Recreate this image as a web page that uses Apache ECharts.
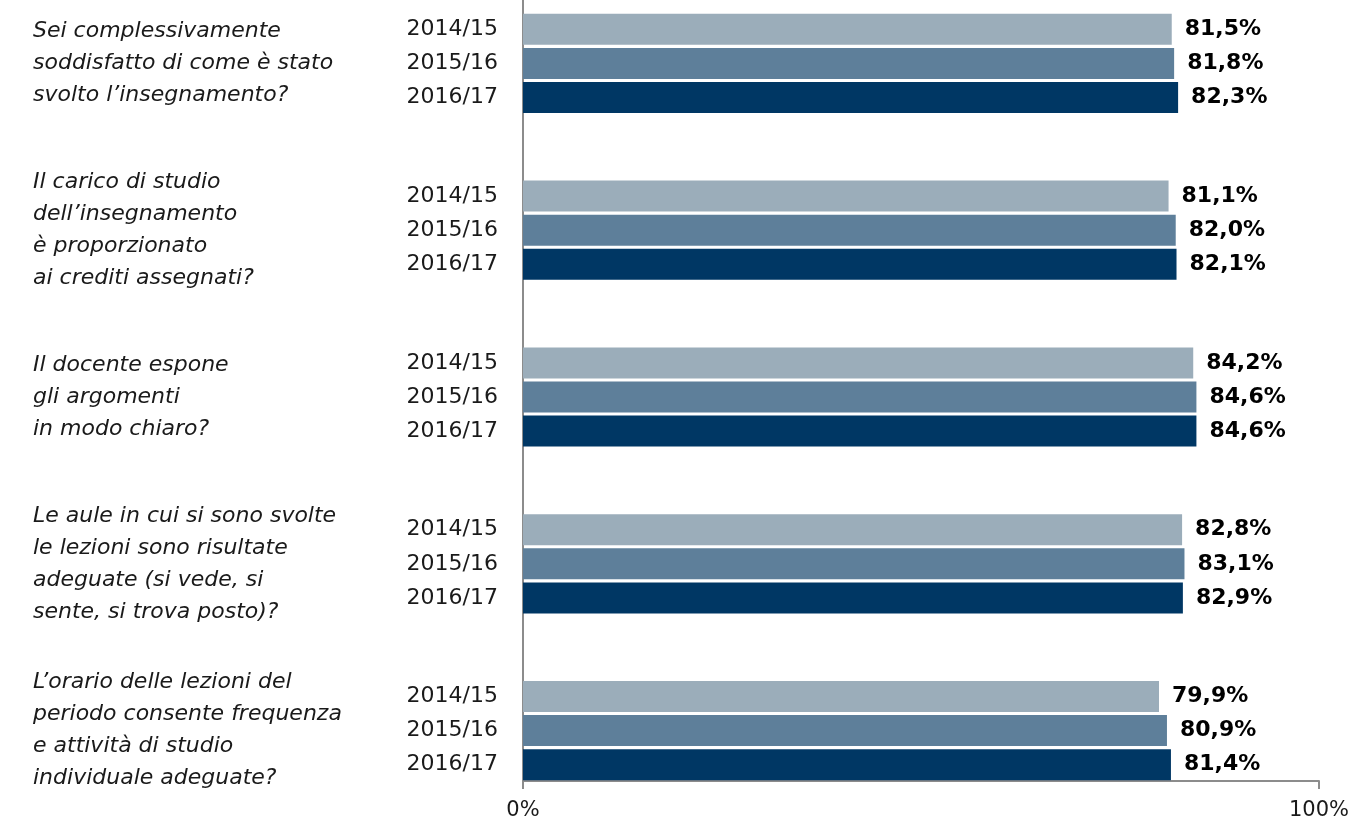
<!DOCTYPE html>
<html>
<head>
	<meta charset="UTF-8">
	<title>questionario</title>
	<script src="https://cdn.jsdelivr.net/npm/echarts@6/dist/echarts.min.js"></script>
	<style>
		html,body{margin:0;padding:0;background:#fff;}
		#mychart{width:1348px;height:822px;}
	</style>
</head>
<body>
<div id="mychart"></div>
<script type="text/javascript">
	// domande (categorie)
	var domande = [
		'Sei complessivamente\nsoddisfatto di come è stato\nsvolto l’insegnamento?',
		'Il carico di studio\ndell’insegnamento\nè proporzionato\nai crediti assegnati?',
		'Il docente espone\ngli argomenti\nin modo chiaro?',
		'Le aule in cui si sono svolte\nle lezioni sono risultate\nadeguate (si vede, si\nsente, si trova posto)?',
		'L’orario delle lezioni del\nperiodo consente frequenza\ne attività di studio\nindividuale adeguate?'
	];
	var anni = ['2014/15','2015/16','2016/17'];
	var val_1415 = [81.5, 81.1, 84.2, 82.8, 79.9];
	var val_1516 = [81.8, 82.0, 84.6, 83.1, 80.9];
	var val_1617 = [82.3, 82.1, 84.6, 82.9, 81.4];
	var xTicks = [0, 100];

	var colori = ['#9badba','#5e7f9a','#003764'];
	var valori = [val_1415, val_1516, val_1617];

	var myChart = echarts.init(document.getElementById('mychart'));
	var fontFam = 'DejaVu Sans';

	var series = [];
	// barre con etichetta anno a sinistra
	for (var i = 0; i < 3; i++) {
		series.push({
			name: anni[i],
			type: 'bar',
			xAxisIndex: 0,
			yAxisIndex: 0,
			barWidth: 31,
			barGap: '10%',
			data: valori[i],
			itemStyle: { color: colori[i] },
			label: {
				show: true,
				position: 'left',
				distance: 25,
				formatter: anni[i],
				fontFamily: fontFam,
				fontSize: 22,
				color: '#1a1a1a'
			},
			silent: true
		});
	}
	// stesse barre (trasparenti) per le percentuali a destra
	for (var j = 0; j < 3; j++) {
		series.push({
			name: anni[j] + '_v',
			type: 'bar',
			xAxisIndex: 0,
			yAxisIndex: 1,
			barWidth: 31,
			barGap: '10%',
			data: valori[j],
			itemStyle: { color: 'rgba(0,0,0,0)' },
			label: {
				show: true,
				position: 'right',
				distance: 13,
				formatter: function(p){ return p.value.toFixed(1).replace('.', ',') + '%'; },
				fontFamily: fontFam,
				fontSize: 22,
				fontWeight: 'bold',
				color: '#000'
			},
			silent: true
		});
	}

	var option = {
		animation: false,
		grid: [
			{ left: 523, width: 796, top: -20, height: 834, containLabel: false, outerBoundsMode: 'none' },   // barre
			{ left: 523, width: 796, top: 0, height: 781, containLabel: false, outerBoundsMode: 'none' }      // cornice assi
		],
		xAxis: [
			{ type: 'value', gridIndex: 0, min: 0, max: 100, show: false },
			{
				type: 'value', gridIndex: 1, min: xTicks[0], max: xTicks[1], interval: 100,
				axisLine: { show: true, lineStyle: { color: '#8c8c8c', width: 2 } },
				axisTick: { show: true, length: 8, lineStyle: { color: '#8c8c8c', width: 2 } },
				splitLine: { show: false },
				axisLabel: { fontFamily: fontFam, fontSize: 21, color: '#1a1a1a', margin: 19, formatter: '{value}%' }
			}
		],
		yAxis: [
			{
				type: 'category', gridIndex: 0, inverse: true, data: domande,
				axisLine: { show: false },
				axisTick: { show: false },
				axisLabel: {
					align: 'left',
					margin: 490,
					fontFamily: fontFam,
					fontStyle: 'italic',
					fontSize: 22,
					lineHeight: 32,
					color: '#1a1a1a'
				}
			},
			{ type: 'category', gridIndex: 0, inverse: true, data: domande, show: false },
			{
				type: 'category', gridIndex: 1, data: [''],
				axisLine: { show: true, lineStyle: { color: '#8c8c8c', width: 2 } },
				axisTick: { show: false },
				axisLabel: { show: false }
			}
		],
		series: series
	};
	myChart.setOption(option);
	window.onresize = myChart.resize;
</script>
</body>
</html>
